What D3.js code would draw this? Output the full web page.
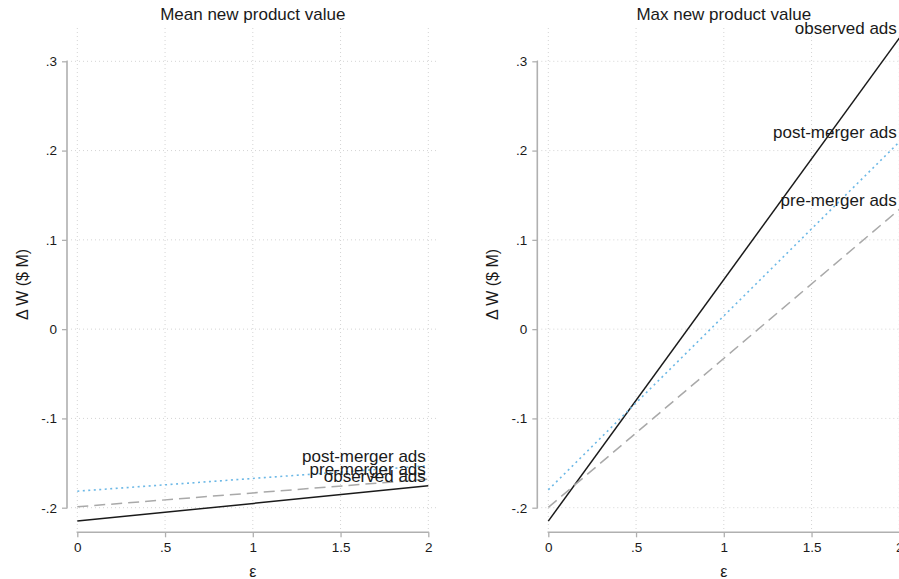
<!DOCTYPE html>
<html>
<head>
<meta charset="utf-8">
<script src="https://cdn.jsdelivr.net/npm/d3@7"></script>
<style>
  html, body { margin: 0; padding: 0; background: #fff; }
  svg { display: block; font-family: "Liberation Sans", Arial, sans-serif; }
</style>
</head>
<body>
<svg id="chart" width="899" height="579"></svg>
<script>
// Elasticity grid (x values of the two line endpoints)
const epsilon = [0, 2];

// Welfare change, mean new product value panel
const meanObserved = [-0.215, -0.1755];
const meanPostMerger = [-0.1815, -0.153];
const meanPreMerger = [-0.199, -0.168];

// Welfare change, max new product value panel
const maxObserved = [-0.215, 0.326];
const maxPostMerger = [-0.180, 0.2097];
const maxPreMerger = [-0.1997, 0.134];

// Axis ticks
const xTicks = [0, 0.5, 1, 1.5, 2];
const xTickLabels = ["0", ".5", "1", "1.5", "2"];
const yTicks = [-0.2, -0.1, 0, 0.1, 0.2, 0.3];
const yTickLabels = ["-.2", "-.1", "0", ".1", ".2", ".3"];

const panelTitles = ["Mean new product value", "Max new product value"];
const seriesNames = ["observed ads", "post-merger ads", "pre-merger ads"];

const textColor = "#1a1a1a";
const styles = {
  "observed ads":    { color: "#1a1a1a", width: 1.5, dash: null },
  "post-merger ads": { color: "#6cb8e6", width: 1.6, dash: "2,3.5" },
  "pre-merger ads":  { color: "#a9a9a9", width: 1.5, dash: "11,6" }
};

const panels = [
  { title: panelTitles[0], axisX: 67, x0: 77.3, series: [meanObserved, meanPostMerger, meanPreMerger] },
  { title: panelTitles[1], axisX: 537.3, x0: 548.3, series: [maxObserved, maxPostMerger, maxPreMerger] }
];

const svg = d3.select("#chart");
const plotTop = 28, plotBottom = 530, axisY = 532.3;
const xWidth = 351;
const y = d3.scaleLinear().domain([-0.2, 0.3]).range([507.7, 61.3]);

panels.forEach(p => {
  const x = d3.scaleLinear().domain([0, 2]).range([p.x0, p.x0 + xWidth]);
  const g = svg.append("g");
  const gridLeft = p.axisX + 4, gridRight = p.x0 + xWidth + 8;

  // dotted grid
  g.selectAll(".hgrid").data(yTicks).join("line")
    .attr("x1", gridLeft).attr("x2", gridRight)
    .attr("y1", d => y(d)).attr("y2", d => y(d))
    .attr("stroke", "#d4d4d4").attr("stroke-width", 1).attr("stroke-dasharray", "1,3");
  g.selectAll(".vgrid").data(xTicks).join("line")
    .attr("x1", d => x(d)).attr("x2", d => x(d))
    .attr("y1", plotTop).attr("y2", plotBottom)
    .attr("stroke", "#d4d4d4").attr("stroke-width", 1).attr("stroke-dasharray", "1,3");

  // y axis
  const yAxis = d3.axisLeft(y).tickValues(yTicks)
    .tickFormat((d, i) => yTickLabels[i]).tickSize(5).tickPadding(5);
  const ya = g.append("g").attr("transform", `translate(${p.axisX},0)`).call(yAxis);
  ya.select(".domain").attr("d", `M-0.5,${y(0.3)}H0V${y(-0.2)}H-0.5`)
    .attr("stroke", "#b0b0b0").attr("stroke-width", 1.6).attr("fill", "none");
  ya.selectAll(".tick line").attr("stroke", "#b0b0b0").attr("stroke-width", 1.3);
  ya.selectAll(".tick text").attr("font-size", 13.5).attr("fill", textColor)
    .attr("font-family", "Liberation Sans, Arial, sans-serif");

  // x axis
  const xAxis = d3.axisBottom(x).tickValues(xTicks)
    .tickFormat((d, i) => xTickLabels[i]).tickSize(5).tickPadding(5);
  const xa = g.append("g").attr("transform", `translate(0,${axisY})`).call(xAxis);
  xa.select(".domain").attr("d", `M${x(0)},0.5V0H${x(2)}V0.5`)
    .attr("stroke", "#b0b0b0").attr("stroke-width", 1.6).attr("fill", "none");
  xa.selectAll(".tick line").attr("stroke", "#b0b0b0").attr("stroke-width", 1.3);
  xa.selectAll(".tick text").attr("font-size", 13.5).attr("fill", textColor)
    .attr("font-family", "Liberation Sans, Arial, sans-serif");

  // axis titles
  g.append("text")
    .attr("transform", `translate(${p.axisX - 45},${(y(0.3) + y(-0.2)) / 2}) rotate(-90)`)
    .attr("text-anchor", "middle").attr("dy", "0.35em")
    .attr("font-size", 16).attr("fill", textColor).text("Δ W ($ M)");
  g.append("text")
    .attr("x", (x(0) + x(2)) / 2).attr("y", 577)
    .attr("text-anchor", "middle").attr("font-size", 16).attr("fill", textColor).text("ε");

  // panel title
  g.append("text")
    .attr("x", (x(0) + x(2)) / 2).attr("y", 20)
    .attr("text-anchor", "middle").attr("font-size", 17).attr("fill", textColor).text(p.title);

  // lines
  const line = d3.line().x((d, i) => x(epsilon[i])).y(d => y(d));
  p.series.forEach((vals, k) => {
    const s = styles[seriesNames[k]];
    g.append("path").datum(vals).attr("d", line)
      .attr("fill", "none").attr("stroke", s.color)
      .attr("stroke-width", s.width)
      .attr("stroke-dasharray", s.dash);
  });

  // end-of-line labels
  p.series.forEach((vals, k) => {
    g.append("text")
      .attr("x", x(epsilon[epsilon.length - 1]) - 2.5)
      .attr("y", y(vals[vals.length - 1]) - 4)
      .attr("text-anchor", "end").attr("font-size", 17).attr("fill", textColor)
      .text(seriesNames[k]);
  });
});
</script>
</body>
</html>
